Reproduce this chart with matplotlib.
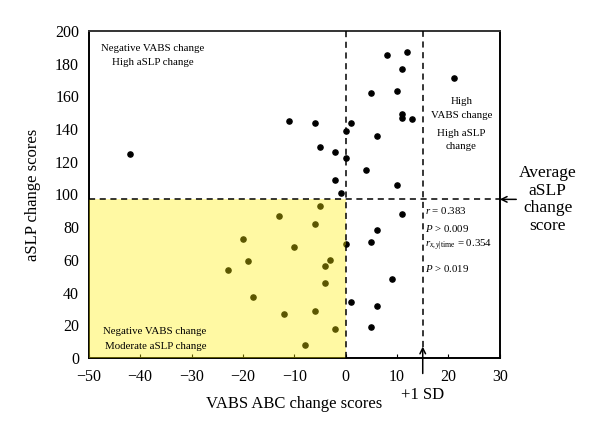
import numpy as np
import matplotlib
matplotlib.use("Agg")
import matplotlib.pyplot as plt
from matplotlib.patches import Rectangle

plt.rcParams["font.family"] = ["Liberation Serif", "DejaVu Serif"]
plt.rcParams["mathtext.fontset"] = "custom"
plt.rcParams["mathtext.rm"] = "Liberation Serif"
plt.rcParams["mathtext.it"] = "Liberation Serif:italic"

# VABS ABC change vs aSLP change
vabs_change = [-42, -11, -6, -5, -2, -2, -1, 0, 0, 1,
               8, 12, 11, 21, 5, 10, 11, 11, 13, 6, 4, 10,
               11, 6, 5, 0, 9, 1, 6, 5,
               -5, -6, -3, -4, -4, -6, -2, -13, -20, -10, -19, -23, -18, -12, -8]
aslp_change = [125, 145, 144, 129, 126, 109, 101, 139, 122, 144,
               185, 187, 177, 171, 162, 163, 149, 147, 146, 136, 115, 106,
               88, 78, 71, 70, 48, 34, 32, 19,
               93, 82, 60, 56, 46, 29, 18, 87, 73, 68, 59, 54, 37, 27, 8]

AVG_ASLP = 97
PLUS_1SD = 15
x_ticks = [-50, -40, -30, -20, -10, 0, 10, 20, 30]
y_ticks = [0, 20, 40, 60, 80, 100, 120, 140, 160, 180, 200]

fig = plt.figure(figsize=(6, 4.36), dpi=100)
ax = fig.add_axes([0.148, 0.179, 0.685, 0.750])

ax.scatter(vabs_change, aslp_change, s=14, color="black", zorder=2, clip_on=False)

# yellow quadrant overlay (on top of the dots, hence olive dots)
ax.add_patch(Rectangle((-50, 0), 50, AVG_ASLP, facecolor=(1.0, 0.94, 0.0),
                       alpha=0.36, edgecolor="none", zorder=3))

dash = dict(color="black", lw=1.1, ls=(0, (4, 3)), zorder=4)
ax.plot([-50, 30], [AVG_ASLP, AVG_ASLP], **dash)
ax.plot([0, 0], [0, 200], **dash)
ax.plot([PLUS_1SD, PLUS_1SD], [7, 200], **dash)

ax.set_xlim(-50, 30)
ax.set_ylim(0, 200)
ax.set_xticks(x_ticks)
ax.set_yticks(y_ticks)
ax.tick_params(direction="in", length=3, labelsize=11.5)
ax.tick_params(axis="x", pad=8)
ax.tick_params(axis="y", length=0, pad=7)
for s in ax.spines.values():
    s.set_linewidth(1.4)
ax.spines["top"].set_color("#333333")

ax.set_xlabel("VABS ABC change scores", fontsize=12, labelpad=8)
ax.set_ylabel("aSLP change scores", fontsize=12, labelpad=10)

small = dict(fontsize=7.8, ha="center", va="center", zorder=5)
ax.text(-37.5, 189.5, "Negative VABS change", **small)
ax.text(-37.5, 181, "High aSLP change", **small)
ax.text(-37.2, 16, "Negative VABS change", **small)
ax.text(-37.0, 7, "Moderate aSLP change", **small)
ax.text(22.5, 157, "High", **small)
ax.text(22.5, 148, "VABS change", **small)
ax.text(22.5, 137.5, "High aSLP", **small)
ax.text(22.5, 129.5, "change", **small)

stat = dict(fontsize=7.8, ha="left", va="center", zorder=5)
ax.text(15.4, 90, r"$r$ = 0.383", **stat)
ax.text(15.4, 79, r"$P$ > 0.009", **stat)
ax.text(15.4, 69, r"$r_{x,y|\mathrm{time}}$ = 0.354", **stat)
ax.text(15.4, 55, r"$P$ > 0.019", **stat)

# annotations outside the axes
ax.annotate("", xy=(30, AVG_ASLP), xytext=(33.2, AVG_ASLP),
            arrowprops=dict(arrowstyle="->", lw=1.1, color="black",
                            shrinkA=0, shrinkB=0), annotation_clip=False)
ax.text(39.3, 97, "Average\naSLP\nchange\nscore", fontsize=12.5, ha="center",
        va="center", linespacing=1.12)
ax.annotate("", xy=(PLUS_1SD, 7), xytext=(PLUS_1SD, -9.5),
            arrowprops=dict(arrowstyle="->", lw=1.1, color="black",
                            shrinkA=0, shrinkB=0), annotation_clip=False)
ax.text(PLUS_1SD, -22.5, "+1 SD", fontsize=12, ha="center", va="center")

plt.savefig("out.png", dpi=100)
plt.close()
